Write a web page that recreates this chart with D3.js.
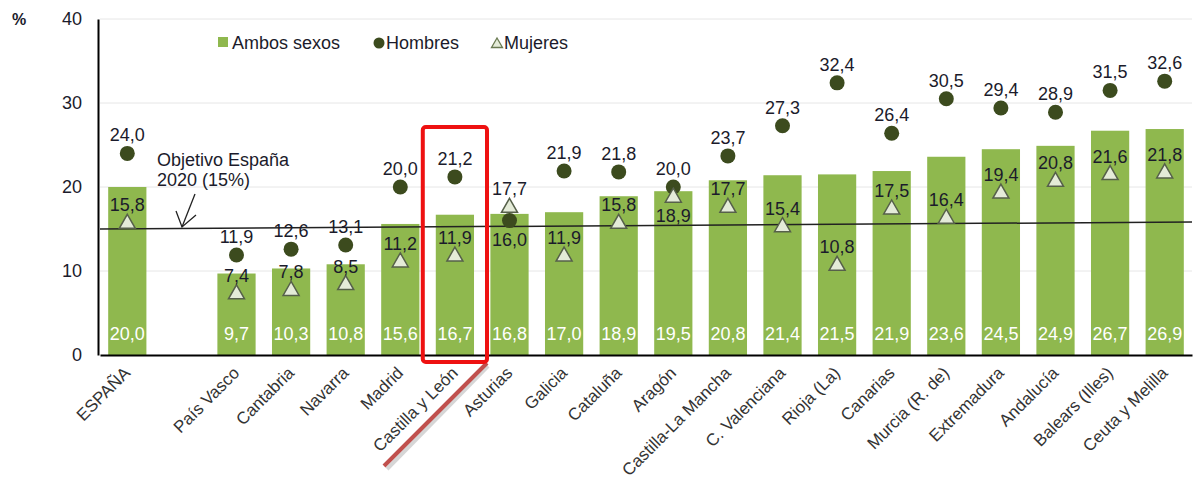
<!DOCTYPE html>
<html><head><meta charset="utf-8">
<script src="https://cdn.jsdelivr.net/npm/d3@7"></script>
<style>body{margin:0;background:#fff}svg{display:block;font-family:"Liberation Sans",Arial,sans-serif}</style>
</head><body><svg id="c" width="1194" height="481"></svg>
<script>
const categories = ["ESPAÑA","País Vasco","Cantabria","Navarra","Madrid","Castilla y León","Asturias","Galicia","Cataluña","Aragón","Castilla-La Mancha","C. Valenciana","Rioja (La)","Canarias","Murcia (R. de)","Extremadura","Andalucía","Balears (Illes)","Ceuta y Melilla"];
const ambos = [20.0,9.7,10.3,10.8,15.6,16.7,16.8,17.0,18.9,19.5,20.8,21.4,21.5,21.9,23.6,24.5,24.9,26.7,26.9];
const hombres = [24.0,11.9,12.6,13.1,20.0,21.2,16.0,21.9,21.8,20.0,23.7,27.3,32.4,26.4,30.5,29.4,28.9,31.5,32.6];
const mujeres = [15.8,7.4,7.8,8.5,11.2,11.9,17.7,11.9,15.8,18.9,17.7,15.4,10.8,17.5,16.4,19.4,20.8,21.6,21.8];
const yTicks = [0,10,20,30,40];
const objetivo = 15;
const legendLabels = ["Ambos sexos","Hombres","Mujeres"];
const highlight = "Castilla y León";

const svg = d3.select("#c");
const fmt = v => d3.format(".1f")(v).replace(".", ",");
const domain = [categories[0], "_gap", ...categories.slice(1)];
const x = d3.scaleBand().domain(domain).range([100,1192]).paddingInner(0.3).paddingOuter(0.15);
const y = d3.scaleLinear().domain([0,40]).range([355,19]);
const cx = c => x(c) + x.bandwidth()/2;
const barColor = "#8fb84e", dotColor = "#3c4b1e", triFill = "#e4ebd8", triStroke = "#56604a", txt = "#1b1b2b";
const FS = 18;

// gridlines
svg.append("g").selectAll("line").data(yTicks.filter(d=>d>0)).join("line")
  .attr("x1",100).attr("x2",1192).attr("y1",d=>y(d)).attr("y2",d=>y(d))
  .attr("stroke","#e6e6e6").attr("stroke-width",1);

// y axis
const ya = svg.append("g").attr("transform","translate(98,0)")
  .call(d3.axisLeft(y).tickValues(yTicks).tickSize(0).tickPadding(16));
ya.select(".domain").attr("stroke","#000").attr("stroke-width",2);
ya.selectAll("text").attr("font-size",FS).attr("fill",txt).attr("font-family","Liberation Sans, Arial");
svg.append("text").attr("x",12).attr("y",y(40)+6).text("%").attr("font-size",16).attr("font-weight","bold").attr("fill",txt);

// bars
svg.append("g").selectAll("rect").data(categories).join("rect")
  .attr("x",d=>x(d)).attr("width",x.bandwidth())
  .attr("y",(d,i)=>y(ambos[i])).attr("height",(d,i)=>y(0)-y(ambos[i]))
  .attr("fill",barColor);
svg.append("g").selectAll("text").data(categories).join("text")
  .attr("x",d=>cx(d)).attr("y",y(0)-15).attr("text-anchor","middle")
  .attr("font-size",FS).attr("fill","#fff").text((d,i)=>fmt(ambos[i]));

// x axis
const xa = svg.append("g").attr("transform","translate(0,355)")
  .call(d3.axisBottom(x).tickValues(categories).tickSize(0).tickFormat(""));
xa.select(".domain").attr("stroke","#000").attr("stroke-width",2);
svg.append("g").selectAll("text").data(categories).join("text")
  .attr("transform",d=>`translate(${cx(d)+4},${374}) rotate(-45)`)
  .attr("text-anchor","end").attr("font-size",17).attr("fill","#333").text(d=>d);

// objetivo line
svg.append("line").attr("x1",100).attr("x2",1192).attr("y1",y(objetivo)).attr("y2",y(objetivo)-7)
  .attr("stroke","#222").attr("stroke-width",1.5);
svg.append("text").attr("x",157).attr("y",166).attr("font-size",FS).attr("fill",txt).text("Objetivo España");
svg.append("text").attr("x",157).attr("y",186).attr("font-size",FS).attr("fill",txt).text("2020 (15%)");
svg.append("line").attr("x1",195).attr("y1",194).attr("x2",182).attr("y2",227).attr("stroke","#222").attr("stroke-width",1.3);
svg.append("path").attr("d","M176,211 L182,227 L196,215").attr("fill","none").attr("stroke","#222").attr("stroke-width",1.3);

// hombres
svg.append("g").selectAll("circle").data(categories).join("circle")
  .attr("cx",d=>cx(d)).attr("cy",(d,i)=>y(hombres[i])).attr("r",7.5).attr("fill",dotColor);
svg.append("g").selectAll("text").data(categories).join("text")
  .attr("x",d=>cx(d)).attr("y",(d,i)=> d==="Asturias" ? y(hombres[i])+25 : y(hombres[i])-12)
  .attr("text-anchor","middle").attr("font-size",FS).attr("fill",txt).text((d,i)=>fmt(hombres[i]));

// mujeres
const tri = "M0,-8 L8,6 L-8,6 Z";
svg.append("g").selectAll("path").data(categories).join("path")
  .attr("transform",(d,i)=>`translate(${cx(d)},${y(mujeres[i])})`).attr("d",tri)
  .attr("fill",triFill).attr("stroke",triStroke).attr("stroke-width",1.5);
svg.append("g").selectAll("text").data(categories).join("text")
  .attr("x",d=>cx(d)).attr("y",(d,i)=> d==="Aragón" ? y(mujeres[i])+26 : y(mujeres[i])-11)
  .attr("text-anchor","middle").attr("font-size",FS).attr("fill",txt).text((d,i)=>fmt(mujeres[i]));

// legend
const lg = svg.append("g");
lg.append("rect").attr("x",218).attr("y",37).attr("width",10).attr("height",10).attr("fill",barColor);
lg.append("text").attr("x",232).attr("y",49).attr("font-size",FS).attr("fill",txt).text(legendLabels[0]);
lg.append("circle").attr("cx",379).attr("cy",43).attr("r",5.5).attr("fill",dotColor);
lg.append("text").attr("x",386).attr("y",49).attr("font-size",FS).attr("fill",txt).text(legendLabels[1]);
lg.append("path").attr("transform","translate(497,43)").attr("d","M0,-5 L5.5,4.5 L-5.5,4.5 Z").attr("fill",triFill).attr("stroke","#6a7a52").attr("stroke-width",1.3);
lg.append("text").attr("x",504).attr("y",49).attr("font-size",FS).attr("fill",txt).text(legendLabels[2]);

// highlight box
const hx = x(highlight);
svg.append("line").attr("x1",hx+x.bandwidth()+14).attr("y1",366).attr("x2",387).attr("y2",469)
  .attr("stroke","#bbb").attr("stroke-width",4).attr("opacity",0.6);
svg.append("line").attr("x1",hx+x.bandwidth()+13).attr("y1",363).attr("x2",384).attr("y2",466)
  .attr("stroke","#c0504d").attr("stroke-width",4);
svg.append("rect").attr("x",hx-13).attr("y",127).attr("width",x.bandwidth()+26).attr("height",235)
  .attr("rx",3).attr("fill","none").attr("stroke","#ee1111").attr("stroke-width",4);
</script></body></html>
